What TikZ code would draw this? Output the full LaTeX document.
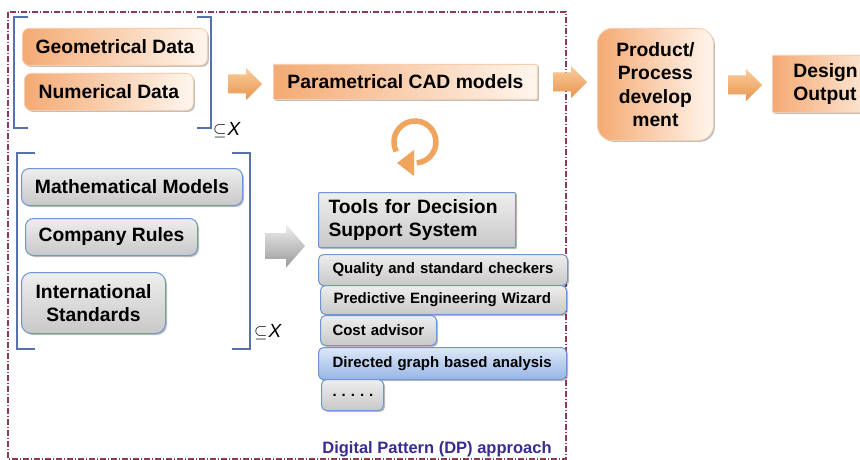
\documentclass[tikz,border=0pt]{standalone}
\usepackage{fontspec}
\setmainfont{Liberation Sans}
\usetikzlibrary{shadows}
\definecolor{orD}{RGB}{244,170,115}
\definecolor{orL}{RGB}{255,246,238}
\definecolor{orB}{RGB}{246,205,175}
\definecolor{grT}{RGB}{238,238,238}
\definecolor{grB}{RGB}{200,200,200}
\definecolor{blB}{RGB}{110,150,210}
\definecolor{bluT}{RGB}{222,232,248}
\definecolor{bluB}{RGB}{150,182,230}
\definecolor{brk}{RGB}{85,115,170}
\definecolor{frm}{RGB}{140,60,80}
\definecolor{dpc}{RGB}{55,45,145}
\definecolor{arT}{RGB}{250,205,155}
\definecolor{arB}{RGB}{232,148,80}
\definecolor{cyc}{RGB}{240,165,95}
\tikzset{
  big/.style={font=\fontsize{19.3}{23.5}\selectfont\bfseries},
  small/.style={font=\fontsize{15}{18}\selectfont\bfseries},
  shd/.style={drop shadow={shadow xshift=1.5pt,shadow yshift=-1.5pt,opacity=0.25,fill=black}},
  obox/.style={big,draw=orB,line width=0.8pt,left color=orD,right color=orL,shd,inner sep=0pt,anchor=north west},
  gbox/.style={draw=blB,line width=1pt,top color=grT,bottom color=grB,shd,inner sep=0pt,anchor=north west},
  bbox/.style={draw=blB,line width=1pt,top color=bluT,bottom color=bluB,shd,inner sep=0pt,anchor=north west},
  blkarrow/.pic={\path[pic actions] (-17,-9.5) -- (1,-9.5) -- (1,-16) -- (17,0) -- (1,16) -- (1,9.5) -- (-17,9.5) -- cycle;},
  oarrow/.style={top color=arT,bottom color=arB},
  garrow/.style={top color=grT,bottom color=gray!80},
  sub/.style={font=\fontsize{19}{19}\selectfont,inner sep=0pt},
  brack/.style={draw=brk,line width=1.2pt}
}
\begin{document}
\begin{tikzpicture}[x=1pt,y=-1pt]
\clip (0,0) rectangle (860,460);
\fill[white] (0,0) rectangle (860,460);
% frame
\draw[frm,line width=1.1pt,dash pattern=on 6pt off 2pt on 1pt off 2pt] (8,12) rectangle (566,459);
% first bracket group
\draw[brack] (28,17) -- (14,17) -- (14,128) -- (28,128);
\draw[brack] (197,17) -- (211,17) -- (211,128) -- (197,128);
\node[sub,anchor=west] (x1) at (213,130) {$\subseteq$\kern1pt\textit{X}};
\node[obox,rounded corners=7pt,minimum width=185pt,minimum height=37pt] (geo) at (22,28) {Geometrical Data};
\node[obox,rounded corners=7pt,minimum width=169pt,minimum height=37pt] (num) at (24,73) {Numerical Data};
\pic[oarrow] at (245,84) {blkarrow};
\node[obox,rounded corners=1pt,minimum width=264pt,minimum height=35pt] (cad) at (273,64) {Parametrical CAD models};
\pic[oarrow] at (570,82) {blkarrow};
\node[obox,rounded corners=15pt,minimum width=116pt,minimum height=112pt,align=center] (prod) at (597,28) {Product/\\Process\\develop\\ment};
\pic[oarrow] at (745,85) {blkarrow};
\node[obox,rounded corners=1pt,minimum height=57pt,text width=77pt,inner xsep=21pt,align=left] (out) at (772,55) {Design\\Output};
% cycle arrow
\coordinate (cc) at (415,142);
\draw[cyc,line width=5.5pt] (cc) ++(-207:21) arc[start angle=-207,end angle=85,radius=21];
\fill[cyc] (397,163) -- (414,150) -- (414,176) -- cycle;
% second bracket group
\draw[brack] (35,153) -- (17,153) -- (17,349) -- (35,349);
\draw[brack] (232,153) -- (250,153) -- (250,349) -- (232,349);
\node[sub,anchor=west] (x2) at (254,332) {$\subseteq$\kern1pt\textit{X}};
\node[gbox,big,rounded corners=8pt,minimum width=221pt,minimum height=37pt] (math) at (21,168) {Mathematical Models};
\node[gbox,big,rounded corners=8pt,minimum width=172pt,minimum height=37pt] (comp) at (25,218) {Company Rules};
\node[gbox,big,rounded corners=10pt,minimum width=144pt,minimum height=61pt,align=center] (intl) at (21,272) {International\\Standards};
\pic[garrow,xscale=40/34,yscale=43/32] at (285,246) {blkarrow};
% tools
\node[gbox,big,rounded corners=1pt,minimum height=55pt,text width=177pt,inner xsep=10pt,align=left] (tools) at (318,192) {Tools for Decision\\Support System};
\node[gbox,small,rounded corners=5pt,minimum height=31pt,text width=221pt,inner xsep=14pt,align=left] (qual) at (318,254) {\mbox{Quality and standard checkers}};
\node[gbox,small,rounded corners=5pt,minimum height=29pt,text width=220pt,inner xsep=13pt,align=left] (pred) at (320,285) {\mbox{Predictive Engineering Wizard}};
\node[gbox,small,rounded corners=5pt,minimum height=30pt,text width=92pt,inner xsep=12pt,align=left] (cost) at (320,315) {\mbox{Cost advisor}};
\node[bbox,small,rounded corners=5pt,minimum height=32pt,text width=220pt,inner xsep=14pt,align=left] (dir) at (318,347) {\mbox{Directed graph based analysis}};
\node[gbox,small,rounded corners=5pt,minimum height=31pt,text width=40pt,inner xsep=11pt,align=left] (dots) at (321,379) {\mbox{.\,\,.\,\,.\,\,.\,\,.}};
\node[font=\fontsize{16.5}{19}\selectfont\bfseries,text=dpc,anchor=center] (dp) at (437,449) {Digital Pattern (DP) approach};
\end{tikzpicture}
\end{document}
